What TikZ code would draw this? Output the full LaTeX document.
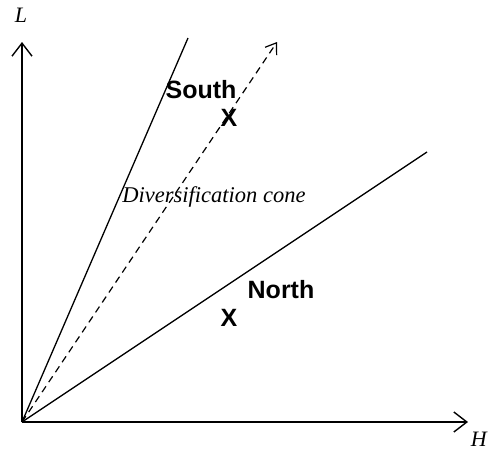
\documentclass[tikz,border=0pt]{standalone}
\usepackage{fontspec}
\setmainfont{Liberation Serif}
\setsansfont{Liberation Sans}
\usetikzlibrary{arrows.meta}
\tikzset{
  axis/.style={line width=1.4pt, -{Straight Barb[length=13pt,width=20pt,line width=1.4pt]}},
  ray/.style={line width=1.3pt},
  conearrow/.style={line width=1.2pt, dash pattern=on 7pt off 5pt, -{Straight Barb[length=10pt,width=14pt,line width=1.2pt]}},
  region/.style={font=\sffamily\bfseries\fontsize{25}{25}\selectfont, inner sep=0pt},
  axlabel/.style={font=\itshape\fontsize{22}{22}\selectfont, inner sep=0pt},
  conelabel/.style={font=\itshape\fontsize{22.5}{22.5}\selectfont, inner sep=0pt}
}
\begin{document}
\begin{tikzpicture}[x=1pt,y=-1pt]
\useasboundingbox (0,0) rectangle (493,450);
\coordinate (O) at (22,422);
\coordinate (Ltop) at (22,42);
\coordinate (Hend) at (468,422);
\coordinate (steep) at (188,38);
\coordinate (shallow) at (427,152);
\coordinate (dtip) at (277,42);
\draw[axis] (O) -- (Ltop);
\draw[axis] (O) -- (Hend);
\draw[ray] (O) -- (steep);
\draw[ray] (O) -- (shallow);
\draw[conearrow] (O) -- (dtip);
\node[axlabel] (L) at (21,15) {L};
\node[axlabel, anchor=east] (H) at (487,439) {H};
\node[region] (south) at (201,90) {South};
\node[region] (xs) at (229,118) {X};
\node[conelabel] (cone) at (214,197) {Diversification cone};
\node[region] (north) at (281,290) {North};
\node[region] (xn) at (229,318) {X};
\end{tikzpicture}
\end{document}
